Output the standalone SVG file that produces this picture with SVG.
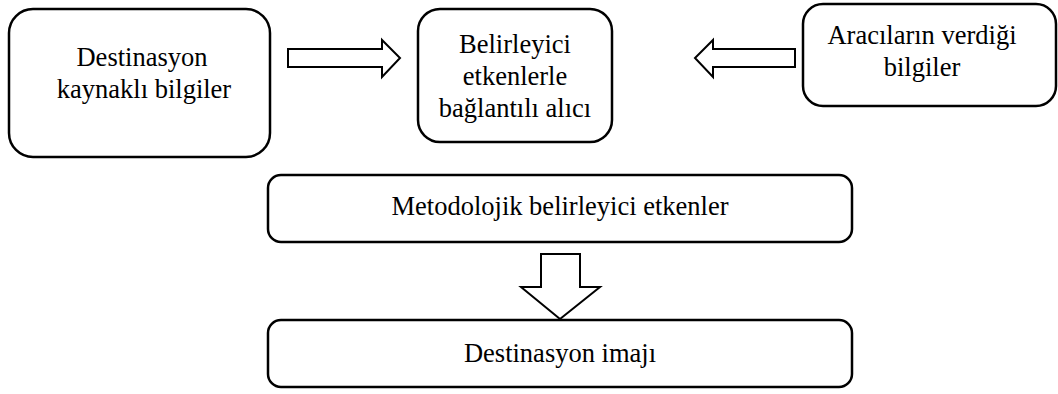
<svg xmlns="http://www.w3.org/2000/svg" width="1058" height="394" viewBox="0 0 1058 394">
<style>
.box{fill:#fff;stroke:#000;stroke-width:2.5}
.arr{fill:#fff;stroke:#000;stroke-width:2}
text{font-family:"Liberation Serif","Times New Roman",serif;font-size:26.5px;fill:#000;text-anchor:middle}
</style>
<rect width="1058" height="394" fill="#fff"/>
<g id="n1"><rect class="box" x="9" y="9" width="261" height="148" rx="24"/>
<text x="142" y="66">Destinasyon</text><text x="144" y="98">kaynaklı bilgiler</text></g>
<g id="n2"><rect class="box" x="418" y="9" width="194" height="133" rx="22"/>
<text x="515" y="53">Belirleyici</text><text x="515" y="85">etkenlerle</text><text x="515" y="117">bağlantılı alıcı</text></g>
<g id="n3"><rect class="box" x="803" y="4" width="253" height="102" rx="20"/>
<text x="922" y="44">Aracıların verdiği</text><text x="922" y="76">bilgiler</text></g>
<g id="n4"><rect class="box" x="268" y="175" width="584" height="67" rx="13"/>
<text x="560" y="215">Metodolojik belirleyici etkenler</text></g>
<g id="n5"><rect class="box" x="268" y="320" width="584" height="67" rx="13"/>
<text x="560" y="362">Destinasyon imajı</text></g>
<g id="connectors">
<polygon class="arr" points="288,49 382,49 382,40 400,58 382,77 382,67 288,67"/>
<polygon class="arr" points="795,49 713,49 713,40 695,58 713,77 713,67 795,67"/>
<polygon class="arr" points="541,254 580,254 580,287 600,287 560,319 521,287 541,287"/>
</g>
</svg>
